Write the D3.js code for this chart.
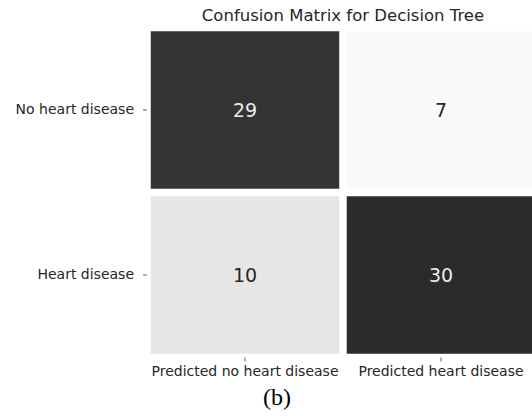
<!DOCTYPE html>
<html>
<head>
<meta charset="utf-8">
<script src="https://cdn.jsdelivr.net/npm/d3@7"></script>
<style>
  body { margin: 0; background: #fff; }
  text { font-family: "DejaVu Sans", sans-serif; }
</style>
</head>
<body>
<svg id="chart" width="532" height="416"></svg>
<script>
// data
var rowLabels = ["No heart disease", "Heart disease"];
var colLabels = ["Predicted no heart disease", "Predicted heart disease"];
var counts = [
  [29, 7],
  [10, 30]
];
var chartTitle = "Confusion Matrix for Decision Tree";
var caption = "(b)";

var svg = d3.select("#chart");
svg.append("rect").attr("width", 532).attr("height", 416).style("fill", "white");

// heatmap area (right side runs past the picture edge, as in the original)
var mapLeft = 147, mapRight = 539, mapTop = 27.5, mapBottom = 357.5;
var gap = 3.75; // half of the white cell border

var x = d3.scaleBand().domain(colLabels).range([mapLeft, mapRight]);
var y = d3.scaleBand().domain(rowLabels).range([mapTop, mapBottom]);

var flat = [];
counts.forEach(function(row, i) {
  row.forEach(function(v, j) {
    flat.push({row: rowLabels[i], col: colLabels[j], value: v});
  });
});

var color = d3.scaleLinear()
  .domain([7, 10, 30])
  .range(["#fafafa", "#e6e6e6", "#2b2b2b"]);

var cells = svg.append("g");
cells.selectAll("rect")
  .data(flat)
  .enter()
  .append("rect")
  .attr("x", d => x(d.col) + gap)
  .attr("y", d => y(d.row) + gap)
  .attr("width", x.bandwidth() - 2 * gap)
  .attr("height", y.bandwidth() - 2 * gap)
  .style("fill", d => color(d.value));

cells.selectAll("text")
  .data(flat)
  .enter()
  .append("text")
  .attr("x", d => x(d.col) + x.bandwidth() / 2)
  .attr("y", d => y(d.row) + y.bandwidth() / 2)
  .attr("text-anchor", "middle")
  .attr("dy", "0.36em")
  .attr("font-size", "19px")
  .attr("fill", d => d.value > 18 ? "#ebebeb" : "#262626")
  .text(d => d.value);

// axes
var xAxis = svg.append("g")
  .attr("transform", "translate(0," + mapBottom + ")")
  .call(d3.axisBottom(x).tickSize(4).tickPadding(4.5));
var yAxis = svg.append("g")
  .attr("transform", "translate(" + mapLeft + ",0)")
  .call(d3.axisLeft(y).tickSize(4).tickPadding(9));

[xAxis, yAxis].forEach(function(a) {
  a.select(".domain").remove();
  a.selectAll("line").style("stroke", "#333").style("stroke-width", 0.8);
  a.selectAll("text")
    .attr("font-size", "14px")
    .style("font-family", "'DejaVu Sans', sans-serif")
    .attr("fill", "#262626");
});

// title
svg.append("text")
  .attr("x", (mapLeft + mapRight) / 2)
  .attr("y", 21)
  .attr("text-anchor", "middle")
  .attr("font-size", "16.5px")
  .attr("fill", "#262626")
  .text(chartTitle);

// caption under the figure
svg.append("text")
  .attr("x", 277)
  .attr("y", 405)
  .attr("text-anchor", "middle")
  .style("font-family", "'Liberation Serif', 'Times New Roman', serif")
  .attr("font-size", "24px")
  .attr("fill", "#000")
  .text(caption);
</script>
</body>
</html>
